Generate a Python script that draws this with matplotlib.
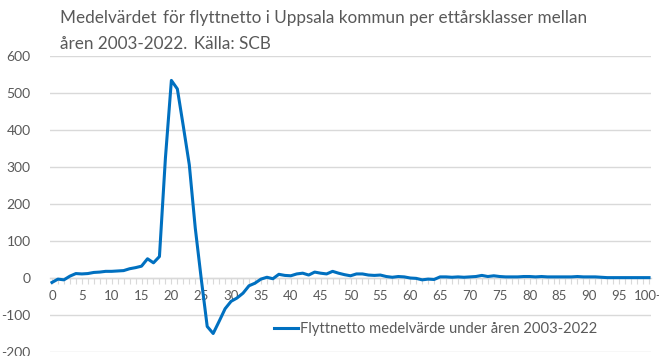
import matplotlib
matplotlib.use("Agg")
import matplotlib.pyplot as plt

# Average net migration per one-year age class, Uppsala kommun 2003-2022
ages = list(range(0, 101))
age_labels = [("100+" if a == 100 else str(a)) if a % 5 == 0 else "" for a in ages]
net_migration = [
    -12, -3, -5, 5, 12, 11, 12, 15, 16, 18,
    18, 19, 20, 25, 28, 32, 52, 41, 58, 324,
    534, 511, 410, 306, 135, -2, -131, -150, -117, -83,
    -63, -54, -41, -21, -14, -3, 2, -2, 10, 7,
    6, 11, 13, 8, 16, 13, 11, 18, 13, 9,
    6, 11, 11, 8, 7, 8, 4, 2, 4, 3,
    0, -1, -5, -3, -4, 3, 3, 2, 3, 2,
    3, 4, 7, 4, 6, 4, 3, 3, 3, 4,
    4, 3, 4, 3, 3, 3, 3, 3, 4, 3,
    3, 3, 2, 1, 1, 1, 1, 1, 1, 1,
    1,
]
y_ticks = [-200, -100, 0, 100, 200, 300, 400, 500, 600]
title = ("Medelvärdet \u2009för flyttnetto i Uppsala kommun per ettårsklasser mellan\n"
         "åren 2003-2022. \u2009Källa: SCB")
series_name = "Flyttnetto medelvärde under åren 2003-2022"

plt.rcParams["font.family"] = ["Lato", "DejaVu Sans"]
text_grey = "#595959"
grid_grey = "#D9D9D9"
line_blue = "#0070C0"

W, H = 659, 356
fig = plt.figure(figsize=(W / 100, H / 100), dpi=100)
ax = fig.add_axes([50 / W, 1 - 352 / H, (651 - 50) / W, (352 - 56) / H])

ax.plot(ages, net_migration, color=line_blue, lw=2.2, solid_joinstyle="round",
        label=series_name, zorder=3)

ax.set_ylim(-200, 600)
ax.set_xlim(-0.33, 100.33)
ax.set_yticks(y_ticks)
ax.set_yticklabels([str(v) for v in y_ticks])
ax.yaxis.grid(True, color=grid_grey, lw=1.0)
ax.set_axisbelow(True)

for side in ("top", "right", "left"):
    ax.spines[side].set_visible(False)
ax.spines["bottom"].set_position(("data", 0))
ax.spines["bottom"].set_color(grid_grey)
ax.spines["bottom"].set_linewidth(1.0)

ax.set_xticks(ages)
ax.set_xticklabels(age_labels)
ax.tick_params(axis="x", direction="out", length=4, width=0.8, color=grid_grey,
               labelcolor=text_grey, labelsize=9.5, pad=5)
ax.tick_params(axis="y", length=0, labelcolor=text_grey, labelsize=10, pad=14)

fig.text(60 / W, 1 - 10 / H, title, ha="left", va="top", fontsize=12.3,
         color=text_grey, linespacing=1.8)

ax.legend(loc="center left", bbox_to_anchor=(274 / W, 1 - 329 / H),
          bbox_transform=fig.transFigure, frameon=False, fontsize=10.6,
          handlelength=1.6, handletextpad=0.2, borderpad=0, borderaxespad=0,
          labelcolor=text_grey)

fig.savefig("out.png", dpi=100)
